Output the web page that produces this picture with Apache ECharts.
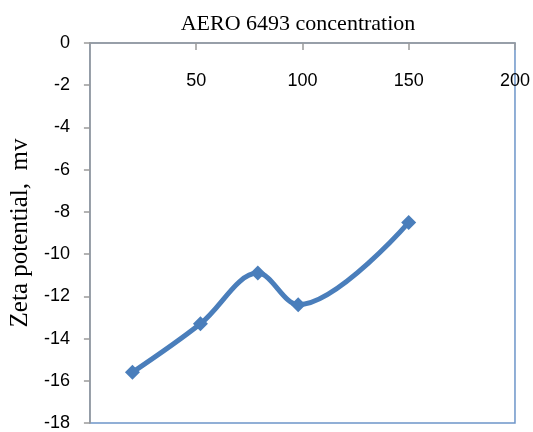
<!DOCTYPE html>
<html><head><meta charset="utf-8">
<script src="https://cdn.jsdelivr.net/npm/echarts@6/dist/echarts.min.js"></script>
<style>html,body{margin:0;padding:0;background:#fff}#c{width:533px;height:432px}</style>
</head><body><div id="c"></div>
<script>
const concentration = [20, 52, 79, 98, 150];
const zeta = [-15.6, -13.3, -10.9, -12.4, -8.5];
const xTicks = [0, 50, 100, 150, 200];
const yTicks = [0, -2, -4, -6, -8, -10, -12, -14, -16, -18];

const chart = echarts.init(document.getElementById('c'), null, {renderer: 'canvas'});
chart.setOption({
  animation: false,
  title: {
    text: 'AERO 6493 concentration',
    left: 293, top: 8, textAlign: 'center',
    textStyle: {fontFamily: 'Liberation Serif', fontSize: 22, fontWeight: 'normal', color: '#000'}
  },
  grid: {left: 88, right: 16, top: 43, bottom: 9, show: true, borderColor: '#6d95c9', borderWidth: 1.5, backgroundColor: '#fff'},
  xAxis: {
    type: 'value', position: 'top', min: xTicks[0], max: xTicks[xTicks.length-1], interval: 50,
    axisLine: {show: true, lineStyle: {color: '#9a9a9a', width: 1.5}},
    axisTick: {show: true, inside: true, length: 7, lineStyle: {color: '#9a9a9a', width: 1.5}},
    axisLabel: {inside: true, margin: 29, showMinLabel: false, color: '#000', fontFamily: 'Liberation Sans', fontSize: 18},
    splitLine: {show: false}
  },
  yAxis: {
    type: 'value', min: yTicks[yTicks.length-1], max: yTicks[0], interval: 2,
    name: 'Zeta potential,  mv', nameLocation: 'middle', nameGap: 53, nameRotate: 90,
    nameTextStyle: {fontFamily: 'Liberation Serif', fontSize: 25, color: '#000'},
    axisLine: {show: true, lineStyle: {color: '#9a9a9a', width: 1.5}},
    axisTick: {show: true, inside: false, length: 6, lineStyle: {color: '#9a9a9a', width: 1.5}},
    axisLabel: {margin: 20, color: '#000', fontFamily: 'Liberation Sans', fontSize: 18},
    splitLine: {show: false}
  },
  series: [{
    type: 'line', smooth: 0.35,
    data: concentration.map((x, i) => [x, zeta[i]]),
    symbol: 'diamond', symbolSize: 15,
    lineStyle: {color: '#4a7ebb', width: 5},
    itemStyle: {color: '#4a7ebb'}
  }]
});
</script></body></html>
